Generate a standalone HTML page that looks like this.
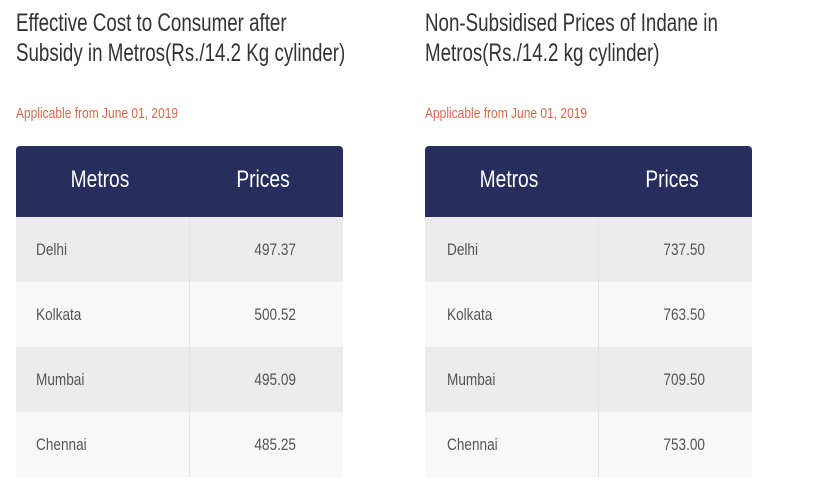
<!DOCTYPE html>
<html><head><style>
body{margin:0;width:827px;height:488px;background:#fff;position:relative;overflow:hidden;font-family:"Liberation Sans",sans-serif}
.t{position:absolute;white-space:nowrap;transform-origin:0 0;transform:scaleX(0.75)}
.title{font-size:25px;color:#333;line-height:30px}
.app{font-size:15px;color:#d2694a;transform:scaleX(0.8)}
.tbl{position:absolute;top:146px;width:327px;height:331px}
.hd{position:absolute;left:0;top:0;width:327px;height:71px;background:#272d5c;border-radius:4px 4px 0 0}
.row{position:absolute;left:0;width:327px;height:65px}
.div{position:absolute;left:173px;top:71px;width:1px;height:260px;background:#e4e4e4}
.h{position:absolute;font-size:24px;color:#fff;top:20px;transform:scaleX(0.8);transform-origin:50% 0;width:120px;text-align:center}
.c{position:absolute;font-size:17px;color:#555;transform:scaleX(0.8)}
</style></head><body>
<div class="t title" style="left:16px;top:8px">Effective Cost to Consumer after<br>Subsidy in Metros(Rs./14.2 Kg cylinder)</div>
<div class="t app" style="left:16px;top:105px">Applicable from June 01, 2019</div>
<div class="t title" style="left:425px;top:8px">Non-Subsidised Prices of Indane in<br>Metros(Rs./14.2 kg cylinder)</div>
<div class="t app" style="left:425px;top:105px">Applicable from June 01, 2019</div>

<div class="tbl" style="left:16px">
<div class="hd"></div>
<div class="h" style="left:24px">Metros</div><div class="h" style="left:187px">Prices</div>
<div class="row" style="top:71px;background:#ececec"></div>
<div class="row" style="top:136px;background:#f8f8f8"></div>
<div class="row" style="top:201px;background:#ececec"></div>
<div class="row" style="top:266px;background:#f8f8f8"></div>
<div class="div"></div>
<div class="c" style="left:20px;top:94px;transform-origin:0 0">Delhi</div><div class="c" style="right:47px;top:94px;transform-origin:100% 0">497.37</div>
<div class="c" style="left:20px;top:159px;transform-origin:0 0">Kolkata</div><div class="c" style="right:47px;top:159px;transform-origin:100% 0">500.52</div>
<div class="c" style="left:20px;top:224px;transform-origin:0 0">Mumbai</div><div class="c" style="right:47px;top:224px;transform-origin:100% 0">495.09</div>
<div class="c" style="left:20px;top:289px;transform-origin:0 0">Chennai</div><div class="c" style="right:47px;top:289px;transform-origin:100% 0">485.25</div>
</div>

<div class="tbl" style="left:425px">
<div class="hd"></div>
<div class="h" style="left:24px">Metros</div><div class="h" style="left:187px">Prices</div>
<div class="row" style="top:71px;background:#ececec"></div>
<div class="row" style="top:136px;background:#f8f8f8"></div>
<div class="row" style="top:201px;background:#ececec"></div>
<div class="row" style="top:266px;background:#f8f8f8"></div>
<div class="div"></div>
<div class="c" style="left:22px;top:94px;transform-origin:0 0">Delhi</div><div class="c" style="right:47px;top:94px;transform-origin:100% 0">737.50</div>
<div class="c" style="left:22px;top:159px;transform-origin:0 0">Kolkata</div><div class="c" style="right:47px;top:159px;transform-origin:100% 0">763.50</div>
<div class="c" style="left:22px;top:224px;transform-origin:0 0">Mumbai</div><div class="c" style="right:47px;top:224px;transform-origin:100% 0">709.50</div>
<div class="c" style="left:22px;top:289px;transform-origin:0 0">Chennai</div><div class="c" style="right:47px;top:289px;transform-origin:100% 0">753.00</div>
</div>
</body></html>
